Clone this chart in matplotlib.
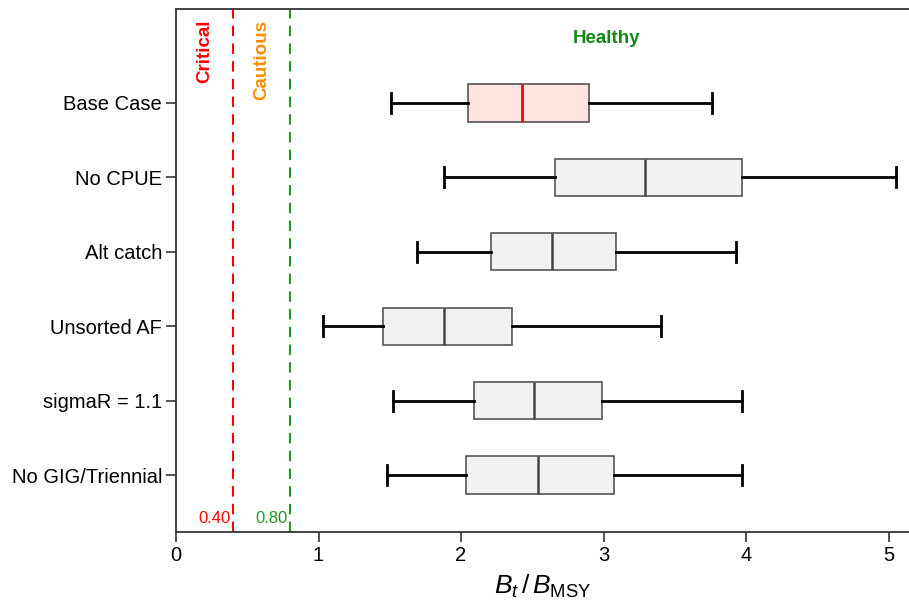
import matplotlib
matplotlib.use("Agg")
import matplotlib.pyplot as plt

plt.rcParams['font.family'] = ['Liberation Sans', 'DejaVu Sans']
plt.rcParams['mathtext.fontset'] = 'custom'
plt.rcParams['mathtext.rm'] = 'Liberation Sans'
plt.rcParams['mathtext.it'] = 'Liberation Sans:italic'

# Data (top to bottom)
scenarios = ["Base Case", "No CPUE", "Alt catch", "Unsorted AF", "sigmaR = 1.1", "No GIG/Triennial"]
whisker_low = [1.51, 1.88, 1.69, 1.03, 1.52, 1.48]
q1 = [2.05, 2.66, 2.21, 1.45, 2.09, 2.035]
median = [2.43, 3.29, 2.64, 1.88, 2.51, 2.54]
q3 = [2.90, 3.97, 3.085, 2.36, 2.99, 3.07]
whisker_high = [3.76, 5.05, 3.93, 3.40, 3.97, 3.97]

critical_ref = 0.40
cautious_ref = 0.80

fig = plt.figure(figsize=(9.09, 6.03), dpi=100)
ax = fig.add_axes([0.1936, 0.1177, 0.806, 0.8674])

n = len(scenarios)
positions = list(range(n, 0, -1))
stats = []
for i in range(n):
    stats.append(dict(label=scenarios[i], whislo=whisker_low[i], q1=q1[i], med=median[i],
                      q3=q3[i], whishi=whisker_high[i], fliers=[]))

bp = ax.bxp(stats, positions=positions, vert=False, widths=0.5, capwidths=0.27,
            patch_artist=True, showfliers=False,
            boxprops=dict(facecolor='#f1f1f1', edgecolor='#555555', linewidth=1.2),
            medianprops=dict(color='#444444', linewidth=1.8),
            whiskerprops=dict(color='black', linewidth=2),
            capprops=dict(color='black', linewidth=2))
bp['boxes'][0].set_facecolor('#ffe4e1')
bp['medians'][0].set_color('red')
bp['medians'][0].set_linewidth(2)

ax.set_xlim(0, 5.14)
ax.set_ylim(0.234, 7.263)

ax.axvline(critical_ref, color='red', linestyle=(0, (5, 3.5)), linewidth=1.5)
ax.axvline(cautious_ref, color='#1f9a1f', linestyle=(0, (5, 3.5)), linewidth=1.5)

ax.text(0.204, 7.12, "Critical", rotation=90, color='red', fontsize=13.5,
        fontweight='bold', ha='center', va='top')
ax.text(0.60, 7.12, "Cautious", rotation=90, color='#ff8c00', fontsize=13.5,
        fontweight='bold', ha='center', va='top')
ax.text(3.02, 6.87, "Healthy", color='#128a12', fontsize=13.5, fontweight='bold',
        ha='center', va='center')
ax.text(critical_ref - 0.02, 0.42, f"{critical_ref:.2f}", color='red', fontsize=12,
        ha='right', va='center')
ax.text(cautious_ref - 0.02, 0.42, f"{cautious_ref:.2f}", color='#1f9a1f', fontsize=12,
        ha='right', va='center')

ax.set_yticks(positions)
ax.set_yticklabels(scenarios, fontsize=14.5)
ax.set_xticks([0, 1, 2, 3, 4, 5])
ax.set_xticklabels(['0', '1', '2', '3', '4', '5'], fontsize=14.5)
ax.tick_params(axis='both', length=7, width=1.2, color='#333333', pad=3)

for s in ax.spines.values():
    s.set_color('#333333')
    s.set_linewidth(1.3)
ax.spines['right'].set_visible(False)

ax.set_xlabel(r"$B_t\,/\,B_{\mathrm{MSY}}$", fontsize=19, labelpad=6)

fig.savefig("out.png", dpi=100)
